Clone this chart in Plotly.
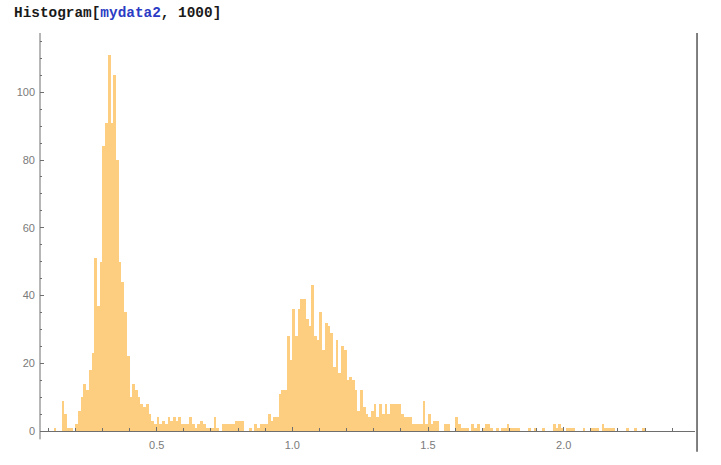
import plotly.graph_objects as go

# ---- data (bin width 0.01, counts) ----
bin_width = 0.01

# bins starting at 0.12
start_peak1 = 0.12
counts_peak1 = [1, 0, 0, 9, 5, 1, 1, 0, 2, 6,
                10, 14, 12, 18, 23, 51, 37, 50, 84, 91,
                111, 91, 105, 80, 50, 44, 35, 22, 10, 14,
                12, 10, 8, 7, 8, 5, 3, 2]

# bins starting at 0.50
start_mid = 0.50
counts_mid = [4, 2, 3, 2, 4, 3, 4, 3, 4, 2,
              2, 2, 4, 2, 1, 2, 3, 2, 1, 1,
              1, 4, 1, 0, 2, 2, 2, 2, 2, 3,
              3, 3, 0, 0, 1, 0, 2, 1]

# bins starting at 0.88
start_peak2 = 0.88
counts_peak2 = [2, 2, 2, 5, 3, 4, 4, 11, 12, 12,
                28, 21, 36, 28, 36, 39, 39, 33, 31, 43,
                28, 27, 35, 24, 32, 31, 29, 19, 27, 17,
                25, 24, 15, 16, 15, 12, 6, 12, 7, 5,
                4, 6, 8, 4, 8, 5, 8, 5, 8, 8,
                8, 8, 5, 4, 4, 4, 2, 2, 2, 2,
                9, 2]

# bins starting at 1.50
start_tail = 1.50
counts_tail = [5, 2, 3, 3, 0, 0, 2, 2, 0, 0,
               4, 2, 1, 1, 1, 0, 2, 1, 2, 0,
               1, 2, 2, 1, 0, 1, 0, 1, 1, 2,
               1, 1, 1, 1, 0, 0, 0, 1, 0, 1,
               0, 0, 1, 0, 0, 0, 2, 1, 2, 1,
               0, 1, 1, 1, 0, 0, 0, 1, 0, 0,
               1, 1, 1, 0, 2, 1, 1, 1, 1, 0,
               0, 0, 0, 1, 0, 0, 1, 0, 0, 1]

segments = [(start_peak1, counts_peak1), (start_mid, counts_mid),
            (start_peak2, counts_peak2), (start_tail, counts_tail)]

xs, ys = [], []
for start, counts in segments:
    for i, c in enumerate(counts):
        xs.append(round(start + (i + 0.5) * bin_width, 4))
        ys.append(c)

title_text = "Histogram[<span style='color:#2b3bc4'>mydata2</span>, 1000]"

x_range = [0.0700, 2.4840]
y_range = [0, 117.5]

fig = go.Figure()
fig.add_trace(go.Bar(
    x=xs, y=ys, width=bin_width,
    marker=dict(color="rgb(253,205,128)", line=dict(width=0)),
    hoverinfo="x+y",
))

axis_col = "#6e6e6e"
lab_font = dict(family="Liberation Sans, Arial, sans-serif", size=11, color="#7a7a7a")

fig.update_layout(
    width=721, height=465,
    margin=dict(l=40, r=26, t=33, b=34),
    paper_bgcolor="white", plot_bgcolor="white",
    bargap=0, showlegend=False,
    xaxis=dict(
        range=x_range, showgrid=False, zeroline=False,
        showline=True, linecolor=axis_col, linewidth=1,
        tick0=0, dtick=0.5, tickformat=".1f",
        ticks="inside", ticklen=4, tickcolor=axis_col, tickwidth=1,
        minor=dict(dtick=0.1, tick0=0, ticks="inside", ticklen=3,
                   tickcolor=axis_col, tickwidth=1, showgrid=False),
        tickfont=lab_font, ticklabelstandoff=4,
    ),
    yaxis=dict(
        range=y_range, showgrid=False, zeroline=False,
        showline=False,
        tick0=0, dtick=20, tickformat="d",
        ticks="inside", ticklen=4, tickcolor=axis_col, tickwidth=1,
        minor=dict(dtick=5, tick0=0, ticks="inside", ticklen=2,
                   tickcolor=axis_col, tickwidth=1, showgrid=False),
        tickfont=lab_font, ticklabelstandoff=4,
    ),
    shapes=[
        # y axis line, extending slightly below the x axis (Mathematica style)
        dict(type="line", xref="paper", yref="paper", x0=0, x1=0,
             y0=-0.021, y1=1.0, line=dict(color=axis_col, width=1)),
        # notebook cell bracket on the right
        dict(type="line", xref="paper", yref="paper", x0=1.0031, x1=1.0031,
             y0=-0.052, y1=1.0, line=dict(color="#555555", width=1.5)),
    ],
    annotations=[
        dict(text="<b>" + title_text + "</b>", xref="paper", yref="paper",
             x=-0.0435, y=1.0515, xanchor="left", yanchor="middle",
             showarrow=False,
             font=dict(family="Liberation Mono, DejaVu Sans Mono, monospace",
                       size=14.4, color="#1a1a1a")),
    ],
)

fig.write_html("out.html",
               config={"displayModeBar": False},
               post_script="document.body.style.margin='0px';document.body.style.overflow='hidden';")
